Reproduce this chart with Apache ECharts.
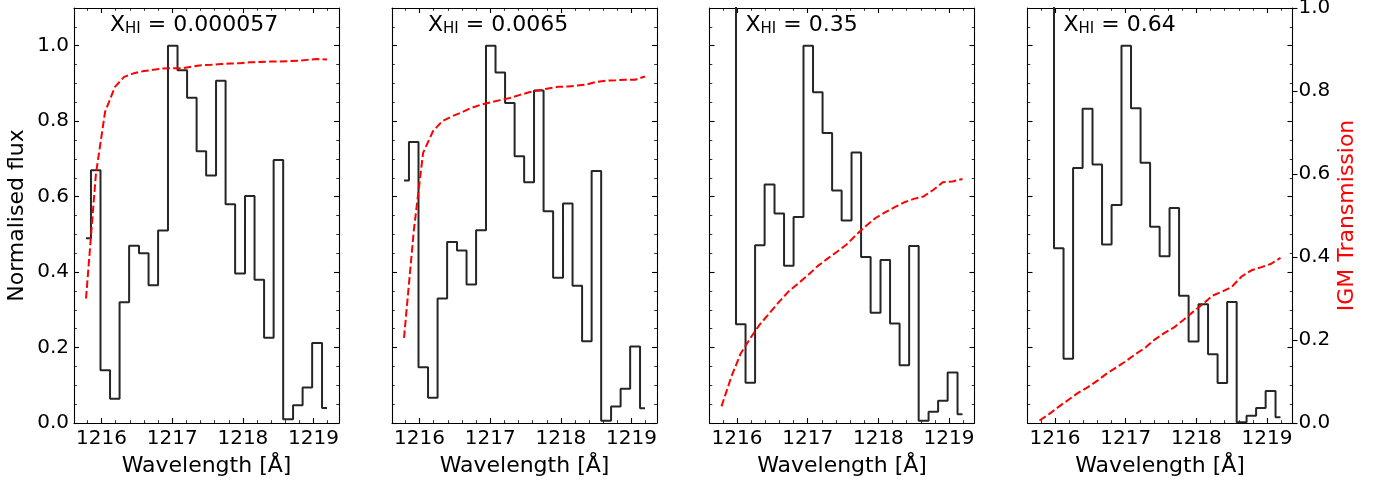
<!DOCTYPE html>
<html>
<head>
<meta charset="utf-8">
<script src="https://cdn.jsdelivr.net/npm/echarts@6/dist/echarts.min.js"></script>
<style>
html, body { margin: 0; padding: 0; background: #fff; }
#main { width: 1380px; height: 483px; }
</style>
</head>
<body>
<div id="main"></div>
<script>
// wavelength grid (Å), shared by all four panels
var wavelength = [1215.78, 1215.92, 1216.05, 1216.19, 1216.32, 1216.46, 1216.60, 1216.73, 1216.87, 1217.01,
    1217.14, 1217.28, 1217.41, 1217.55, 1217.69, 1217.82, 1217.96, 1218.10, 1218.23, 1218.37,
    1218.50, 1218.64, 1218.78, 1218.91, 1219.05, 1219.19];

// normalised flux (black steps)
var flux1 = [0.49, 0.67, 0.14, 0.064, 0.32, 0.47, 0.45, 0.365, 0.51, 1.0, 0.935, 0.862, 0.72, 0.656, 0.907, 0.58, 0.396, 0.602, 0.38, 0.226, 0.697, 0.01, 0.047, 0.094, 0.212, 0.04];
var flux2 = [0.643, 0.745, 0.148, 0.067, 0.33, 0.48, 0.457, 0.367, 0.511, 1.0, 0.929, 0.848, 0.707, 0.638, 0.881, 0.561, 0.385, 0.582, 0.364, 0.217, 0.668, 0.006, 0.044, 0.091, 0.203, 0.039];
var flux3 = [1.6, 1.9, 0.262, 0.107, 0.471, 0.632, 0.555, 0.417, 0.546, 1.0, 0.877, 0.769, 0.616, 0.537, 0.717, 0.44, 0.292, 0.432, 0.264, 0.153, 0.469, 0.006, 0.03, 0.059, 0.134, 0.023];
var flux4 = [1.6, 1.9, 0.463, 0.17, 0.676, 0.833, 0.685, 0.473, 0.578, 1.0, 0.834, 0.69, 0.52, 0.442, 0.57, 0.337, 0.216, 0.315, 0.182, 0.106, 0.321, 0.002, 0.019, 0.04, 0.085, 0.015];

// IGM transmission (red dashed, right-hand scale)
var igm1 = [0.30, 0.60, 0.75, 0.81, 0.834, 0.843, 0.848, 0.851, 0.854, 0.855, 0.855, 0.859, 0.862, 0.863, 0.865, 0.866, 0.867, 0.869, 0.87, 0.871, 0.871, 0.872, 0.873, 0.875, 0.877, 0.876];
var igm2 = [0.205, 0.466, 0.651, 0.703, 0.727, 0.739, 0.749, 0.759, 0.767, 0.773, 0.778, 0.783, 0.79, 0.797, 0.802, 0.806, 0.81, 0.811, 0.813, 0.816, 0.822, 0.825, 0.826, 0.827, 0.827, 0.835];
var igm3 = [0.04, 0.112, 0.167, 0.205, 0.237, 0.265, 0.293, 0.317, 0.337, 0.357, 0.378, 0.396, 0.412, 0.43, 0.454, 0.474, 0.494, 0.508, 0.52, 0.532, 0.54, 0.546, 0.562, 0.58, 0.582, 0.588];
var igm4 = [0.006, 0.022, 0.039, 0.056, 0.072, 0.086, 0.102, 0.119, 0.134, 0.15, 0.166, 0.182, 0.201, 0.217, 0.231, 0.249, 0.269, 0.288, 0.307, 0.317, 0.328, 0.353, 0.368, 0.375, 0.383, 0.398];

var xhiLabels = ['0.000057', '0.0065', '0.35', '0.64'];

// ticks
var xMajor = [1216, 1217, 1218, 1219];
var xMinor = [1215.8, 1216.2, 1216.4, 1216.6, 1216.8, 1217.2, 1217.4, 1217.6, 1217.8, 1218.2, 1218.4, 1218.6, 1218.8, 1219.2];
var yMajor = [0, 0.2, 0.4, 0.6, 0.8, 1.0];
var yMinor = [0.05, 0.1, 0.15, 0.25, 0.3, 0.35, 0.45, 0.5, 0.55, 0.65, 0.7, 0.75, 0.85, 0.9, 0.95, 1.05];
var igmMajor = [0, 0.2, 0.4, 0.6, 0.8, 1.0];

var fluxes = [flux1, flux2, flux3, flux4];
var igms = [igm1, igm2, igm3, igm4];

var chart = echarts.init(document.getElementById('main'));

var FONT = 'DejaVu Sans';
var lefts = [74, 392, 709.5, 1027.5];
var xMin = 1215.61, xMax = 1219.36;
var grids = [], xAxes = [], yAxes = [], series = [], titles = [];

function pairs(xs, ys) {
    return xs.map(function (x, k) { return [x, ys[k]]; });
}

fluxes.forEach(function (flux, i) {
    grids.push({ left: lefts[i], top: 8, width: 265, height: 415, outerBoundsMode: 'none' });

    var xMainIdx = xAxes.length;
    ['bottom', 'top'].forEach(function (pos) {
        [xMajor, xMinor].forEach(function (vals, m) {
            var main = pos === 'bottom' && m === 0;
            xAxes.push({
                type: 'value', gridIndex: i, position: pos, min: xMin, max: xMax,
                axisLine: { show: m === 0, onZero: false, lineStyle: { color: '#000', width: 1.1 } },
                axisTick: { show: true, inside: true, customValues: vals, length: m === 0 ? 5 : 2.8,
                    lineStyle: { color: '#000', width: m === 0 ? 1.1 : 0.8 } },
                axisLabel: { show: main, customValues: vals, margin: 6, color: '#000',
                    fontFamily: FONT, fontSize: 20,
                    formatter: function (v) { return String(Math.round(v)); } },
                splitLine: { show: false },
                name: main ? 'Wavelength [Å]' : '',
                nameLocation: 'middle', nameGap: 32,
                nameTextStyle: { color: '#000', fontFamily: FONT, fontSize: 22 }
            });
        });
    });

    var yMainIdx = yAxes.length;
    ['left', 'right'].forEach(function (pos) {
        [yMajor, yMinor].forEach(function (vals, m) {
            var main = pos === 'left' && m === 0 && i === 0;
            yAxes.push({
                type: 'value', gridIndex: i, position: pos, min: 0, max: 1.1,
                axisLine: { show: m === 0, onZero: false, lineStyle: { color: '#000', width: 1.1 } },
                axisTick: { show: true, inside: true, customValues: vals, length: m === 0 ? 5 : 2.8,
                    lineStyle: { color: '#000', width: m === 0 ? 1.1 : 0.8 } },
                axisLabel: { show: main, customValues: vals, margin: 5, color: '#000',
                    fontFamily: FONT, fontSize: 20,
                    formatter: function (v) { return v.toFixed(1); } },
                splitLine: { show: false },
                name: main ? 'Normalised flux' : '',
                nameLocation: 'middle', nameGap: 46,
                nameTextStyle: { color: '#000', fontFamily: FONT, fontSize: 22 }
            });
        });
    });

    var igmIdx = yAxes.length;
    var last = i === 3;
    yAxes.push({
        type: 'value', gridIndex: i, position: 'right', min: 0, max: 1, show: last,
        axisLine: { show: false, onZero: false },
        axisTick: { show: true, inside: false, customValues: igmMajor, length: 5,
            lineStyle: { color: '#000', width: 1.1 } },
        axisLabel: { show: true, customValues: igmMajor, margin: 6, color: '#000',
            fontFamily: FONT, fontSize: 20,
            formatter: function (v) { return v.toFixed(1); } },
        splitLine: { show: false },
        name: 'IGM Transmission',
        nameLocation: 'middle', nameGap: 44,
        nameTextStyle: { color: '#ff0000', fontFamily: FONT, fontSize: 22 }
    });

    series.push({
        type: 'line', name: 'flux' + (i + 1), xAxisIndex: xMainIdx, yAxisIndex: yMainIdx,
        data: pairs(wavelength, flux), step: 'middle', symbol: 'none', clip: true,
        lineStyle: { color: '#262626', width: 2 }, z: 2
    });
    series.push({
        type: 'line', name: 'igm' + (i + 1), xAxisIndex: xMainIdx, yAxisIndex: igmIdx,
        data: pairs(wavelength, igms[i]), symbol: 'none', clip: true,
        lineStyle: { color: '#ff0000', width: 2, type: [7.5, 3.2] }, z: 3
    });

    titles.push({
        text: '{n|X}{s|HI}{n| = ' + xhiLabels[i] + '}',
        left: lefts[i] + 36, top: 13, padding: 0,
        textStyle: {
            fontWeight: 'normal',
            rich: {
                n: { fontFamily: FONT, fontSize: 22, fontWeight: 'normal', lineHeight: 24, color: '#000' },
                s: { fontFamily: FONT, fontSize: 15, fontWeight: 'normal', lineHeight: 14, verticalAlign: 'bottom', color: '#000' }
            }
        }
    });
});

chart.setOption({
    animation: false,
    backgroundColor: '#fff',
    textStyle: { fontFamily: FONT },
    title: titles,
    grid: grids,
    xAxis: xAxes,
    yAxis: yAxes,
    series: series
});
</script>
</body>
</html>
